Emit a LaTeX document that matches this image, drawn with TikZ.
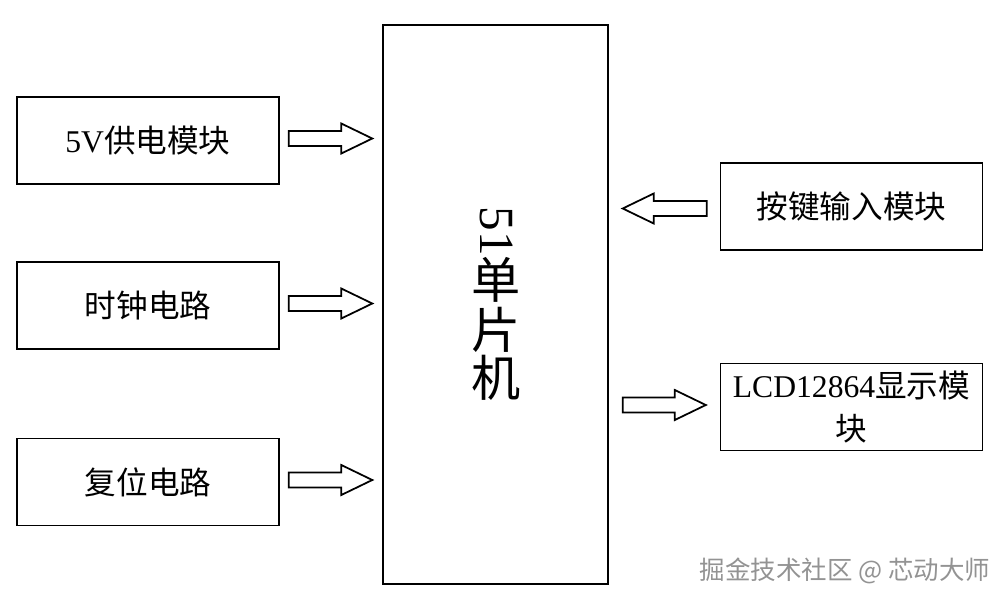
\documentclass[tikz,border=0pt]{standalone}
\usepackage{fontspec}
\setmainfont{Liberation Serif}
\newfontfamily\cjk{Noto Sans CJK SC}
\usetikzlibrary{calc}

% hollow block arrow from tail #1 to tip #2 (horizontal)
\newcommand{\fatarrow}[2]{%
  \draw[fat] let \p1=(#1), \p2=(#2), \n1={sign(\x2-\x1)} in
    (\x1,\y1+1.5mm) -- (\x2-\n1*6.2mm,\y1+1.5mm) -- (\x2-\n1*6.2mm,\y1+3mm)
    -- (\x2,\y1) -- (\x2-\n1*6.2mm,\y1-3mm) -- (\x2-\n1*6.2mm,\y1-1.5mm)
    -- (\x1,\y1-1.5mm) -- cycle;}

\begin{document}
\begin{tikzpicture}[
    x=0.2mm, y=-0.2mm,
    block/.style = {draw, line width=0.8pt, minimum width=5.24cm,
                    minimum height=1.74cm, inner sep=0pt, align=center,
                    font=\cjk\fontsize{18}{24}\selectfont},
    chip/.style  = {draw, line width=0.8pt, minimum width=4.5cm,
                    minimum height=11.18cm, inner sep=0pt},
    big/.style   = {inner sep=0pt, font=\cjk\fontsize{28}{30}\selectfont},
    fat/.style   = {draw, line width=1pt, fill=white, line join=miter}
]
\useasboundingbox (0,0) rectangle (1006,604);

% central controller
\node[chip] (mcu) at (495.5,304.5) {};
\node[big, rotate=-90, font=\fontsize{28}{30}\selectfont] (m0) at (496,231) {51};
\foreach \c/\y [count=\i] in {单/280, 片/330, 机/378}
    \node[big] (m\i) at (496,\y) {\c};

% input modules (left)
\node[block] (pwr) at (148,140.5) {{\rmfamily 5V}供电模块};
\node[block] (clk) at (148,305.5) {时钟电路};
\node[block] (rst) at (148,482)   {复位电路};

% right modules
\node[block] (key) at (851.5,206.5) {按键输入模块};
\node[block] (lcd) at (851.5,407)   {{\rmfamily LCD12864}显示模\\块};

% arrow ends
\foreach \b in {pwr, clk, rst} {
    \path (\b.east) ++(9,-2) coordinate (\b-s);
    \path (mcu.west |- \b.east) ++(-10,-2) coordinate (\b-t);
    \fatarrow{\b-s}{\b-t}
}
\path (key.west) ++(-13,2) coordinate (key-s);
\path (mcu.east |- key.west) ++(14,2) coordinate (key-t);
\fatarrow{key-s}{key-t}
\path (mcu.east |- lcd.west) ++(14,-2) coordinate (lcd-s);
\path (lcd.west) ++(-14,-2) coordinate (lcd-t);
\fatarrow{lcd-s}{lcd-t}

% watermark
\node[font=\cjk\fontsize{14.5}{17}\selectfont, text=gray!85, inner sep=0pt]
    (wm) at (845,571) {掘金技术社区 @ 芯动大师};

\end{tikzpicture}
\end{document}
